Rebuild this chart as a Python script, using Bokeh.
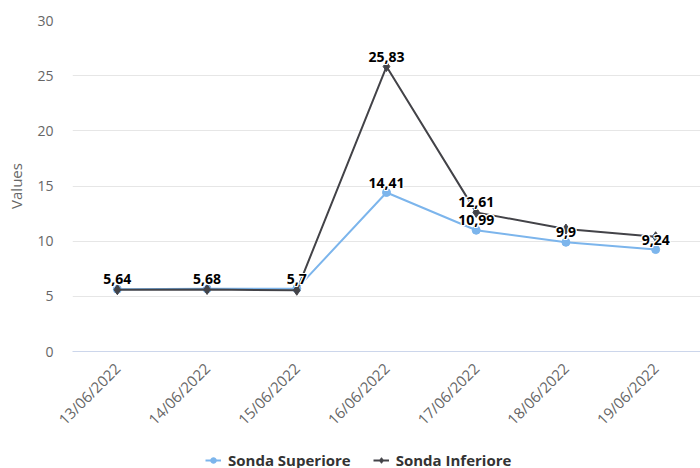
import math
from bokeh.plotting import figure
from bokeh.layouts import column
from bokeh.models import ColumnDataSource, Range1d, FactorRange, FixedTicker, Legend, LegendItem
from bokeh.core.properties import value
from bokeh.embed import file_html
from bokeh.resources import INLINE

dates = ["13/06/2022", "14/06/2022", "15/06/2022", "16/06/2022",
         "17/06/2022", "18/06/2022", "19/06/2022"]
superiore = [5.64, 5.68, 5.70, 14.41, 10.99, 9.90, 9.24]
inferiore = [5.60, 5.62, 5.55, 25.83, 12.61, 11.10, 10.40]
inferiore_label_shown = [False, False, False, True, True, False, False]
series_names = ["Sonda Superiore", "Sonda Inferiore"]
y_ticks = [0, 5, 10, 15, 20, 25, 30]

FONT = "Open Sans"
C_SUP = "#7cb5ec"
C_INF = "#434348"


def fmt(v):
    return f"{v:g}".replace(".", ",")


src_sup = ColumnDataSource(dict(x=dates, y=superiore, lab=[fmt(v) for v in superiore]))
src_inf = ColumnDataSource(dict(x=dates, y=inferiore))
inf_x = [d for d, s in zip(dates, inferiore_label_shown) if s]
inf_y = [v for v, s in zip(inferiore, inferiore_label_shown) if s]
src_inf_lab = ColumnDataSource(dict(x=inf_x, y=inf_y, lab=[fmt(v) for v in inf_y]))

p = figure(x_range=FactorRange(*dates, range_padding=0), y_range=Range1d(0, 30),
           width=700, height=446, output_backend="svg", toolbar_location=None,
           min_border_left=72, min_border_right=0, min_border_top=20, min_border_bottom=95)
p.outline_line_color = None
p.background_fill_color = "white"
p.border_fill_color = "white"

p.xgrid.grid_line_color = None
p.ygrid.grid_line_color = "#e6e6e6"
p.ygrid.ticker = FixedTicker(ticks=y_ticks)

p.yaxis.ticker = FixedTicker(ticks=y_ticks)
p.yaxis.axis_line_color = None
p.yaxis.major_tick_line_color = None
p.yaxis.major_tick_out = 0
p.yaxis.major_tick_in = 0
p.yaxis.minor_tick_line_color = None
p.yaxis.major_label_standoff = 19
p.yaxis.major_label_text_font = FONT
p.yaxis.major_label_text_font_size = "14px"
p.yaxis.major_label_text_color = "#666666"
p.yaxis.axis_label = "Values"
p.yaxis.axis_label_text_font = FONT
p.yaxis.axis_label_text_font_size = "15px"
p.yaxis.axis_label_text_font_style = "normal"
p.yaxis.axis_label_text_color = "#666666"
p.yaxis.axis_label_standoff = 8

p.xaxis.axis_line_color = "#ccd6eb"
p.xaxis.major_tick_line_color = None
p.xaxis.major_tick_out = 0
p.xaxis.major_tick_in = 0
p.xaxis.minor_tick_line_color = None
p.xaxis.major_label_orientation = math.pi / 4
p.xaxis.major_label_standoff = 14
p.xaxis.major_label_text_font = FONT
p.xaxis.major_label_text_font_size = "15px"
p.xaxis.major_label_text_color = "#666666"

p.line("x", "y", source=src_sup, line_color=C_SUP, line_width=2)
p.scatter("x", "y", source=src_sup, marker="circle", size=8, fill_color=C_SUP, line_color=C_SUP)
p.line("x", "y", source=src_inf, line_color=C_INF, line_width=2)
p.scatter("x", "y", source=src_inf, marker="diamond", size=10, fill_color=C_INF, line_color=C_INF)

halo = [(-1, -1), (0, -1), (1, -1), (-1, 0), (1, 0), (-1, 1), (0, 1), (1, 1)]
for src in (src_sup, src_inf_lab):
    for dx, dy in halo:
        p.text("x", "y", text="lab", source=src, text_align="center", text_baseline="alphabetic",
               x_offset=dx, y_offset=-10 + dy, text_font=value(FONT), text_font_size="14px",
               text_font_style="bold", text_color="white")
    p.text("x", "y", text="lab", source=src, text_align="center", text_baseline="alphabetic",
           y_offset=-10, text_font=value(FONT), text_font_size="14px", text_font_style="bold",
           text_color="#000000")

# Legend strip below the chart (proxy renderers lie outside its visible range)
lg = figure(width=700, height=24, output_backend="svg", toolbar_location=None,
            x_range=Range1d(0, 1), y_range=Range1d(0, 1), x_axis_type=None, y_axis_type=None,
            min_border_left=0, min_border_right=0, min_border_top=0, min_border_bottom=0)
lg.outline_line_color = None
lg.xgrid.grid_line_color = None
lg.ygrid.grid_line_color = None
lg.border_fill_color = "white"
proxy = ColumnDataSource(dict(x=[5, 6], y=[5, 6]))
dl1 = lg.line("x", "y", source=proxy, line_color=C_SUP, line_width=2)
dm1 = lg.scatter("x", "y", source=proxy, marker="circle", size=8, fill_color=C_SUP, line_color=C_SUP)
dl2 = lg.line("x", "y", source=proxy, line_color=C_INF, line_width=2)
dm2 = lg.scatter("x", "y", source=proxy, marker="diamond", size=10, fill_color=C_INF, line_color=C_INF)

legend = Legend(items=[LegendItem(label=series_names[0], renderers=[dl1, dm1]),
                       LegendItem(label=series_names[1], renderers=[dl2, dm2])],
                orientation="horizontal", location=(133, 0))
legend.border_line_color = None
legend.background_fill_alpha = 0
legend.padding = 0
legend.margin = 0
legend.spacing = 22
legend.glyph_width = 16
legend.glyph_height = 14
legend.label_height = 14
legend.label_standoff = 7
legend.label_text_font = FONT
legend.label_text_font_size = "15px"
legend.label_text_font_style = "bold"
legend.label_text_color = "#333333"
lg.add_layout(legend, "center")

layout = column(p, lg, spacing=0)
open("out.html", "w").write(file_html(layout, INLINE))
